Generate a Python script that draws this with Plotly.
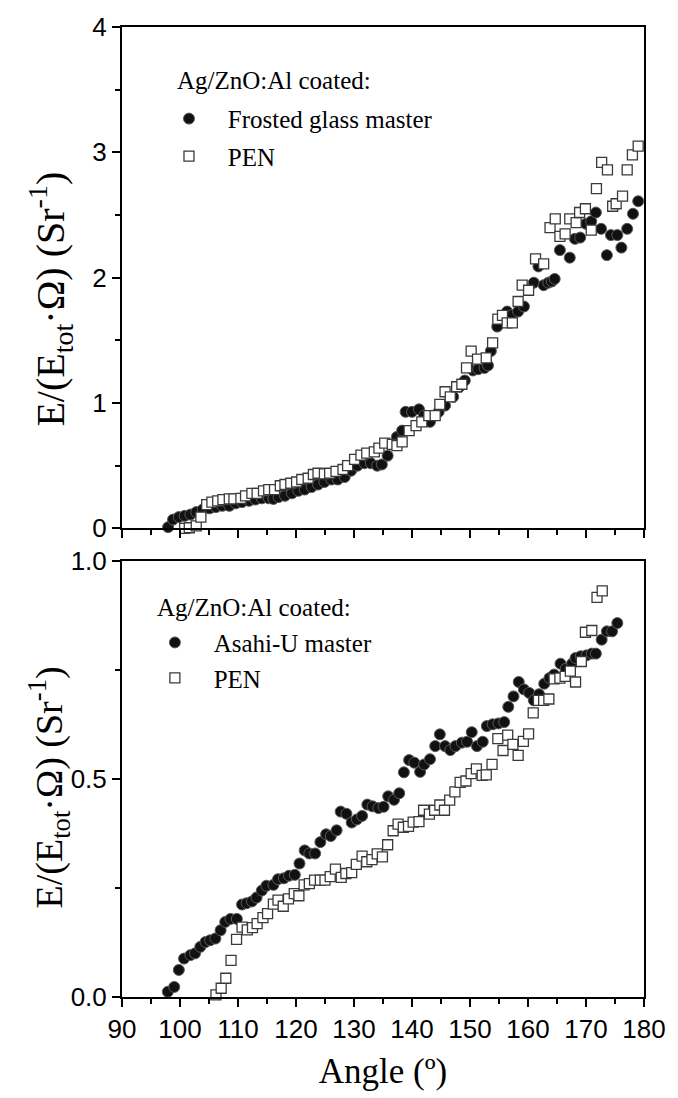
import plotly.graph_objects as go

# ---- Upper panel: frosted glass master vs PEN ----
angle_frosted = [97.95, 98.8, 99.8, 100.8, 101.8, 102.8, 103.9, 105.1, 106.2, 107.3,
                 108.5, 109.6, 110.7, 111.9, 113.0, 114.1, 115.3, 116.1, 117.0, 118.1,
                 119.3, 120.4, 121.5, 122.7, 123.8, 124.9, 126.1, 127.2, 128.4, 129.5,
                 130.6, 131.8, 132.9, 134.0, 134.8, 135.8, 137.4, 138.3, 138.9, 140.0,
                 141.2, 142.1, 143.1, 144.6, 145.7, 147.1, 148.2, 149.1, 150.5, 151.4,
                 152.5, 153.1, 153.6, 154.7, 155.6, 156.4, 157.2, 158.3, 159.3, 161.0,
                 161.8, 162.7, 163.5, 164.1, 164.6, 165.5, 167.2, 168.1, 169.0, 170.0,
                 170.9, 171.7, 172.6, 173.6, 174.3, 175.4, 176.1, 177.1, 178.1, 179.0]
e_frosted = [0.01, 0.07, 0.09, 0.10, 0.11, 0.13, 0.15, 0.16, 0.17, 0.18,
             0.18, 0.20, 0.21, 0.22, 0.23, 0.24, 0.24, 0.235, 0.25, 0.26,
             0.28, 0.30, 0.31, 0.33, 0.35, 0.37, 0.39, 0.39, 0.41, 0.46,
             0.50, 0.52, 0.52, 0.50, 0.51, 0.58, 0.73, 0.78, 0.93, 0.93,
             0.95, 0.90, 0.85, 0.93, 0.98, 1.05, 1.13, 1.18, 1.26, 1.27,
             1.28, 1.30, 1.415, 1.61, 1.68, 1.73, 1.70, 1.73, 1.77, 1.96,
             2.09, 1.94, 1.96, 1.97, 1.99, 2.22, 2.16, 2.31, 2.32, 2.43,
             2.45, 2.52, 2.39, 2.18, 2.34, 2.34, 2.24, 2.39, 2.51, 2.61]

angle_pen_top = [100.8, 101.6, 102.8, 103.6, 104.6, 105.5, 106.5, 107.4, 108.5, 109.3,
                 110.5, 111.3, 112.4, 113.3, 114.4, 115.3, 116.3, 117.3, 118.1, 119.1,
                 120.1, 121.0, 122.1, 123.0, 123.8, 124.9, 125.8, 126.9, 128.1, 128.9,
                 130.1, 131.2, 132.2, 133.5, 134.3, 135.3, 136.6, 137.4, 138.3, 139.5,
                 140.7, 141.7, 142.9, 144.0, 144.8, 145.7, 146.6, 147.7, 148.6, 149.4,
                 150.2, 151.3, 152.8, 153.9, 154.8, 155.6, 156.4, 157.3, 158.3, 159.0,
                 160.1, 161.3, 162.7, 163.8, 164.7, 165.5, 166.4, 167.2, 168.3, 168.9,
                 169.9, 170.9, 171.8, 172.7, 173.7, 174.6, 175.2, 176.3, 177.1, 178.0,
                 179.0]
e_pen_top = [0.00, 0.005, 0.02, 0.09, 0.19, 0.21, 0.22, 0.23, 0.235, 0.235,
             0.24, 0.26, 0.28, 0.28, 0.30, 0.31, 0.31, 0.34, 0.35, 0.36,
             0.37, 0.39, 0.40, 0.43, 0.44, 0.435, 0.44, 0.455, 0.47, 0.50,
             0.55, 0.585, 0.60, 0.61, 0.64, 0.68, 0.67, 0.66, 0.69, 0.78,
             0.82, 0.85, 0.90, 0.90, 0.99, 1.09, 1.05, 1.13, 1.15, 1.28,
             1.415, 1.35, 1.36, 1.48, 1.67, 1.70, 1.64, 1.64, 1.81, 1.94,
             1.90, 2.15, 2.11, 2.40, 2.47, 2.33, 2.35, 2.47, 2.44, 2.52,
             2.55, 2.38, 2.71, 2.92, 2.86, 2.57, 2.59, 2.65, 2.86, 2.98,
             3.05]

# ---- Lower panel: Asahi-U master vs PEN ----
angle_asahi = [97.9, 99.0, 99.8, 100.7, 101.8, 102.6, 103.5, 104.4, 105.2, 106.1,
               107.0, 107.8, 108.7, 109.8, 110.7, 111.5, 112.4, 113.2, 114.1, 114.9,
               116.1, 116.9, 117.9, 118.8, 119.8, 120.6, 121.5, 122.3, 123.3, 124.2,
               125.2, 126.0, 127.0, 127.7, 128.7, 129.6, 130.5, 131.4, 132.3, 133.2,
               134.2, 135.1, 135.9, 136.9, 137.8, 138.6, 139.5, 140.4, 141.4, 142.1,
               143.1, 144.0, 144.8, 145.7, 146.6, 147.5, 148.6, 149.5, 150.3, 151.2,
               152.2, 152.9, 153.9, 154.9, 155.9, 156.6, 157.5, 158.4, 159.3, 160.2,
               161.0, 161.9, 162.8, 163.7, 164.5, 165.6, 166.5, 167.6, 168.2, 169.1,
               170.1, 171.0, 171.7, 172.7, 173.6, 174.5, 175.4]
e_asahi = [0.012, 0.023, 0.062, 0.088, 0.096, 0.100, 0.115, 0.126, 0.130, 0.134,
           0.153, 0.172, 0.179, 0.179, 0.212, 0.215, 0.219, 0.228, 0.244, 0.255,
           0.257, 0.270, 0.272, 0.278, 0.280, 0.306, 0.336, 0.329, 0.329, 0.355,
           0.373, 0.369, 0.382, 0.425, 0.420, 0.400, 0.407, 0.415, 0.441, 0.437,
           0.433, 0.436, 0.460, 0.452, 0.467, 0.515, 0.543, 0.537, 0.516, 0.533,
           0.545, 0.575, 0.602, 0.575, 0.566, 0.575, 0.583, 0.585, 0.607, 0.575,
           0.585, 0.621, 0.625, 0.627, 0.630, 0.665, 0.689, 0.722, 0.705, 0.697,
           0.680, 0.694, 0.718, 0.731, 0.739, 0.764, 0.752, 0.764, 0.777, 0.781,
           0.783, 0.787, 0.787, 0.819, 0.838, 0.838, 0.857]

angle_pen_bottom = [106.2, 107.1, 107.9, 108.8, 109.75, 110.7, 111.6, 112.5, 113.3, 114.3,
                    115.1, 116.1, 116.9, 117.8, 118.7, 119.7, 120.5, 121.4, 122.3, 123.2,
                    124.2, 125.0, 125.9, 126.8, 127.8, 128.6, 129.6, 130.4, 131.4, 132.2,
                    133.1, 134.0, 134.9, 135.8, 136.75, 137.6, 138.5, 139.4, 140.2, 141.2,
                    142.0, 143.0, 143.9, 144.8, 145.6, 146.5, 147.4, 148.3, 149.3, 150.2,
                    151.1, 152.1, 152.8, 153.8, 154.8, 155.7, 156.5, 157.4, 158.3, 159.2,
                    160.1, 160.9, 161.8, 162.7, 163.6, 164.5, 165.5, 166.4, 167.3, 168.2,
                    169.2, 169.9, 171.0, 171.9, 172.8]
e_pen_bottom = [0.005, 0.020, 0.043, 0.084, 0.132, 0.160, 0.154, 0.159, 0.168, 0.182,
                0.191, 0.213, 0.222, 0.208, 0.225, 0.237, 0.232, 0.257, 0.260, 0.268,
                0.268, 0.268, 0.276, 0.293, 0.274, 0.283, 0.285, 0.304, 0.323, 0.310,
                0.315, 0.328, 0.321, 0.349, 0.381, 0.396, 0.389, 0.391, 0.401, 0.402,
                0.428, 0.419, 0.428, 0.440, 0.428, 0.451, 0.470, 0.492, 0.495, 0.512,
                0.523, 0.508, 0.509, 0.533, 0.592, 0.565, 0.600, 0.579, 0.554, 0.586,
                0.603, 0.651, 0.680, 0.680, 0.683, 0.729, 0.731, 0.735, 0.747, 0.722,
                0.769, 0.836, 0.840, 0.916, 0.931]

x_ticks = [90, 100, 110, 120, 130, 140, 150, 160, 170, 180]

legend_heading = "Ag/ZnO:Al coated:"
y_title = "E/(E<sub>tot</sub>·Ω) (Sr<sup>-1</sup>)"
x_title = "Angle (º)"

SERIF = "Liberation Serif, Times New Roman, Times, serif"
SANS = "Liberation Sans, Arial, Helvetica, sans-serif"
PAD = "\u00a0\u00a0\u00a0"   # spacing between legend symbol and its label

circle_style = dict(symbol="circle", size=11, color="#111111",
                    line=dict(color="#5a5a5a", width=1))
square_style = dict(symbol="square", size=10, color="white",
                    line=dict(color="#3a3a3a", width=1.3))

fig = go.Figure()
fig.add_trace(go.Scatter(x=angle_frosted, y=e_frosted, mode="markers", xaxis="x2", yaxis="y2",
                         name=PAD + "Frosted glass master", marker=circle_style, cliponaxis=False,
                         legend="legend", legendgroup="a"))
fig.add_trace(go.Scatter(x=angle_pen_top, y=e_pen_top, mode="markers", xaxis="x2", yaxis="y2",
                         name=PAD + "PEN", marker=square_style, cliponaxis=False,
                         legend="legend", legendgroup="b"))
fig.add_trace(go.Scatter(x=angle_asahi, y=e_asahi, mode="markers", xaxis="x", yaxis="y",
                         name=PAD + "Asahi-U master", marker=circle_style, cliponaxis=False,
                         legend="legend2", legendgroup="c"))
fig.add_trace(go.Scatter(x=angle_pen_bottom, y=e_pen_bottom, mode="markers", xaxis="x", yaxis="y",
                         name=PAD + "PEN", marker=square_style, cliponaxis=False,
                         legend="legend2", legendgroup="d"))

tick_minor = dict(ticks="outside", ticklen=5, tickwidth=2, tickcolor="black")
axis_common = dict(showline=True, linecolor="black", linewidth=2, mirror=True,
                   ticks="outside", ticklen=8, tickwidth=2, tickcolor="black",
                   showgrid=False, zeroline=False,
                   tickfont=dict(family=SANS, size=26, color="black"))
legend_common = dict(font=dict(family=SERIF, size=25, color="black"),
                     xanchor="left", yanchor="top", bgcolor="rgba(0,0,0,0)", borderwidth=0)

fig.update_layout(
    width=678, height=1098,
    margin=dict(l=122, r=26, t=21, b=101),
    paper_bgcolor="white", plot_bgcolor="white",
    xaxis=dict(axis_common, range=[90, 180], tickvals=x_ticks, anchor="y",
               minor=dict(tick_minor, dtick=5, tick0=90),
               title=dict(text=x_title, font=dict(family=SERIF, size=35, color="black"), standoff=15)),
    yaxis=dict(axis_common, range=[0, 1], dtick=0.5, tickformat=".1f", domain=[0, 0.4498], anchor="x",
               minor=dict(tick_minor, dtick=0.25)),
    xaxis2=dict(axis_common, range=[90, 180], tickvals=x_ticks, anchor="y2", matches="x",
                showticklabels=False, minor=dict(tick_minor, dtick=5, tick0=90)),
    yaxis2=dict(axis_common, range=[0, 4], dtick=1, domain=[0.4831, 1], anchor="x2",
                minor=dict(tick_minor, dtick=0.5)),
    legend=dict(legend_common, x=0.090, y=0.929, tracegroupgap=2),
    legend2=dict(legend_common, x=0.063, y=0.389, tracegroupgap=0),
)

# legend headings
fig.add_annotation(text=legend_heading, xref="paper", yref="paper", x=0.102, y=0.9447,
                   xanchor="left", yanchor="middle", showarrow=False,
                   font=dict(family=SERIF, size=25, color="black"))
fig.add_annotation(text=legend_heading, xref="paper", yref="paper", x=0.064, y=0.4016,
                   xanchor="left", yanchor="middle", showarrow=False,
                   font=dict(family=SERIF, size=25, color="black"))

# vertical axis titles, one per panel
for y_center, size in ((0.720, 40), (0.216, 38)):
    fig.add_annotation(text=y_title, xref="paper", yref="paper", x=-0.138, y=y_center,
                       xanchor="center", yanchor="middle", textangle=-90, showarrow=False,
                       font=dict(family=SERIF, size=size, color="black"))

fig.write_html("out.html")
